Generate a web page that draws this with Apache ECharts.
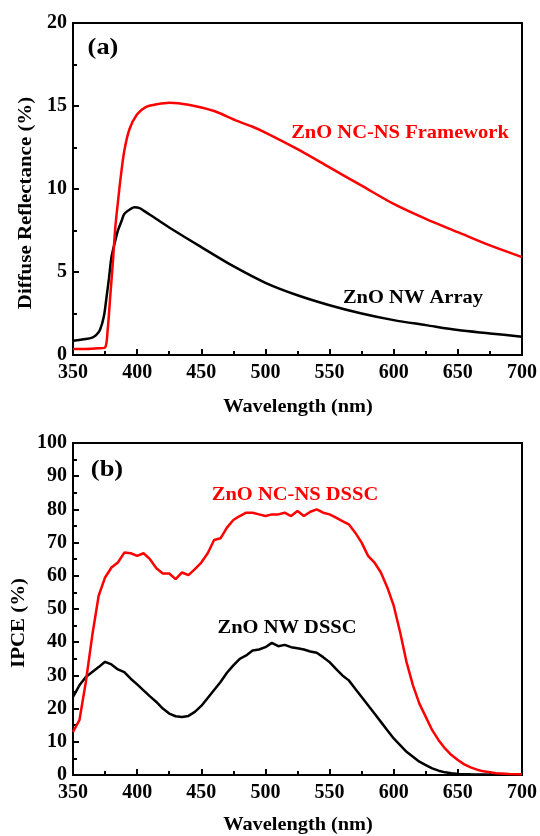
<!DOCTYPE html>
<html>
<head>
<meta charset="utf-8">
<script src="https://cdn.jsdelivr.net/npm/echarts@6/dist/echarts.min.js"></script>
<style>
html,body{margin:0;padding:0;background:#fff;}
#chart{width:540px;height:836px;}
</style>
</head>
<body>
<div id="chart"></div>
<script>
// ---- Panel (a): Diffuse reflectance ----
var wlNWArray = [350,360,365,368,371,374,376,378,380,383,385,388,390,395,398,402,405,410,425,450,475,500,525,550,575,600,625,650,675,700];
var reflNWArray = [0.86,0.96,1.05,1.2,1.5,2.3,3.4,4.6,5.9,6.9,7.5,8.1,8.5,8.8,8.9,8.85,8.7,8.45,7.68,6.5,5.35,4.35,3.6,3.0,2.5,2.1,1.8,1.5,1.3,1.1];
var wlNCNSFrame = [350,360,370,375,377,379,381,383,385,387,390,394,400,407,415,425,440,460,478,490,500,525,550,575,600,625,650,675,700];
var reflNCNSFrame = [0.36,0.36,0.4,0.45,1.5,3.5,5.5,7.7,9.2,10.6,12.3,13.6,14.5,14.95,15.1,15.2,15.08,14.7,14.1,13.75,13.4,12.4,11.3,10.2,9.1,8.2,7.4,6.6,5.9];

// ---- Panel (b): IPCE ----
var wlNCNSDSSC = [350,355,360,365,370,375,380,385,390,395,400,405,410,415,420,425,430,435,440,445,450,455,460,465,470,475,480,485,490,495,500,505,510,515,520,525,530,535,540,545,550,555,560,565,570,575,580,585,590,595,600,605,610,615,620,625,630,635,640,645,650,655,660,665,670,680,690,700];
var ipceNCNS = [13,16.5,28,42,54,59.5,62.5,64,67,66.8,66,66.8,65,62.3,60.7,60.7,59,61,60.2,62,64,66.8,70.8,71.3,74.5,76.8,78,79,79,78.5,78,78.5,78.5,79,78,79.5,78,79.3,80,79,78.5,77.5,76.5,75.5,73,70,66,64,61,56.5,51,43,34,27,21.5,17.5,13.5,10.5,8,6,4.5,3.2,2.3,1.6,1.1,0.5,0.3,0.2];
var wlNWDSSC = [350,355,360,365,370,375,380,385,390,395,400,405,410,415,420,425,430,435,440,445,450,455,460,465,470,475,480,485,490,495,500,505,510,515,520,525,530,535,540,545,550,555,560,565,570,575,580,585,590,595,600,605,610,615,620,625,630,635,640,645,650,660,680,700];
var ipceNW = [23.5,27,29.5,31,32.5,34.1,33.3,31.8,31,29,27.3,25.5,23.7,22,20,18.5,17.7,17.5,17.8,19,20.8,23.2,25.6,28,30.8,33,35,36,37.5,37.8,38.5,39.8,38.8,39.2,38.5,38.2,37.8,37.2,36.8,35.5,34,32,30,28.5,26,23.5,21,18.5,16,13.5,11,9,7,5.5,4,3,2,1.3,0.8,0.5,0.3,0.2,0.1,0.1];

function pairs(xs, ys){ return xs.map(function(x,i){return [x, ys[i]];}); }

var FONT = '"Liberation Serif","Times New Roman",serif';
var labelStyle = {color:'#000', fontFamily:FONT, fontWeight:'bold', fontSize:20};

function xAx(gi, margin){
  return {
    type:'value', gridIndex:gi, min:350, max:700, interval:50,
    axisLine:{show:true, onZero:false, lineStyle:{color:'#000', width:2}},
    axisTick:{show:true, inside:true, length:6, lineStyle:{color:'#000', width:2}},
    minorTick:{show:true, splitNumber:2, length:4, lineStyle:{color:'#000', width:2}},
    splitLine:{show:false},
    axisLabel:Object.assign({margin:margin}, labelStyle)
  };
}
function yAx(gi, max, interval){
  return {
    type:'value', gridIndex:gi, min:0, max:max, interval:interval,
    axisLine:{show:true, onZero:false, lineStyle:{color:'#000', width:2}},
    axisTick:{show:true, inside:true, length:6, lineStyle:{color:'#000', width:2}},
    minorTick:{show:true, splitNumber:2, length:4, lineStyle:{color:'#000', width:2}},
    splitLine:{show:false},
    axisLabel:Object.assign({margin:6}, labelStyle)
  };
}
function txt(str, x, y, color, size, sx, rot){
  return {
    type:'text', x:x, y:y, scaleX:sx || 1.08, rotation:rot || 0,
    style:{text:str, fill:color, font:'bold ' + size + 'px ' + FONT, textAlign:'center', textVerticalAlign:'middle'}
  };
}

var chart = echarts.init(document.getElementById('chart'), null, {renderer:'canvas'});
chart.setOption({
  backgroundColor:'#fff',
  animation:false,
  grid:[
    {left:73, right:17, top:23, height:332, show:true, borderColor:'#000', borderWidth:2, backgroundColor:'transparent'},
    {left:73, right:17, top:443, height:332, show:true, borderColor:'#000', borderWidth:2, backgroundColor:'transparent'}
  ],
  xAxis:[xAx(0, 8), xAx(1, 8)],
  yAxis:[yAx(0, 20, 5), yAx(1, 100, 10)],
  series:[
    {type:'line', name:'ZnO NW Array', xAxisIndex:0, yAxisIndex:0, data:pairs(wlNWArray, reflNWArray), showSymbol:false, smooth:0.3, lineStyle:{color:'#000', width:2.5}, itemStyle:{color:'#000'}},
    {type:'line', name:'ZnO NC-NS Framework', xAxisIndex:0, yAxisIndex:0, data:pairs(wlNCNSFrame, reflNCNSFrame), showSymbol:false, smooth:0.3, lineStyle:{color:'#ff0000', width:2.5}, itemStyle:{color:'#ff0000'}},
    {type:'line', name:'ZnO NW DSSC', xAxisIndex:1, yAxisIndex:1, data:pairs(wlNWDSSC, ipceNW), showSymbol:false, lineStyle:{color:'#000', width:2.5}, itemStyle:{color:'#000'}},
    {type:'line', name:'ZnO NC-NS DSSC', xAxisIndex:1, yAxisIndex:1, data:pairs(wlNCNSDSSC, ipceNCNS), showSymbol:false, lineStyle:{color:'#ff0000', width:2.5}, itemStyle:{color:'#ff0000'}}
  ],
  graphic:[
    txt('(a)', 103, 48, '#000', 24, 1.1),
    txt('ZnO NC-NS Framework', 400, 133, '#ff0000', 19),
    txt('ZnO NW Array', 413, 298, '#000', 19),
    txt('Wavelength (nm)', 298, 407, '#000', 19, 1.07),
    txt('Diffuse Reflectance (%)', 26, 203, '#000', 19, 1.1, Math.PI/2),
    txt('(b)', 107, 470, '#000', 24, 1.1),
    txt('ZnO NC-NS DSSC', 295, 495, '#ff0000', 19),
    txt('ZnO NW DSSC', 287, 628, '#000', 19),
    txt('Wavelength (nm)', 298, 825, '#000', 19, 1.07),
    txt('IPCE (%)', 19, 623, '#000', 19, 1.1, Math.PI/2)
  ]
});
</script>
</body>
</html>
